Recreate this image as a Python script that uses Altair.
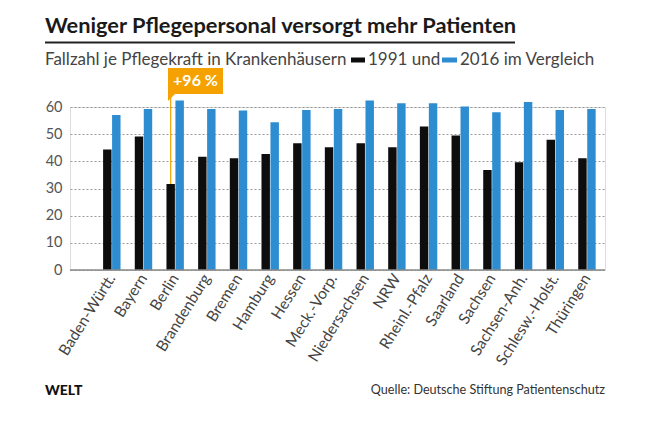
import altair as alt
import pandas as pd

states = ["Baden-Württ.", "Bayern", "Berlin", "Brandenburg", "Bremen", "Hamburg",
          "Hessen", "Meck.-Vorp.", "Niedersachsen", "NRW", "Rheinl.-Pfalz",
          "Saarland", "Sachsen", "Sachsen-Anh.", "Schlesw.-Holst.", "Thüringen"]
v1991 = [44.4, 49.1, 31.7, 41.7, 41.1, 42.7, 46.7, 45.2, 46.7, 45.2, 52.8,
         49.5, 36.8, 39.7, 47.9, 41.1]
v2016 = [57.1, 59.3, 62.4, 59.3, 58.7, 54.4, 58.9, 59.3, 62.4, 61.4, 61.4,
         60.2, 58.1, 61.8, 58.9, 59.3]
years = ["1991", "2016"]
yticks = [0, 10, 20, 30, 40, 50, 60]

title = "Weniger Pflegepersonal versorgt mehr Patienten"
sub1 = "Fallzahl je Pflegekraft in Krankenhäusern"
sub2 = "1991 und"
sub3 = "2016 im Vergleich"
badge = "+96 %"
source = "Quelle: Deutsche Stiftung Patientenschutz"
logo = "WELT"

rows = []
for s, a, b in zip(states, v1991, v2016):
    rows.append({"state": s, "year": years[0], "value": a})
    rows.append({"state": s, "year": years[1], "value": b})
df = pd.DataFrame(rows)

FONT = "Lato"
BLACK = "#0d0d0d"
BLUE = "#2e8dd0"
ORANGE = "#f5a200"

xscale = alt.Scale(domain=states, paddingInner=0.45, paddingOuter=0.67, align=0.78)
xaxis = alt.Axis(title=None, labelAngle=-58, labelAlign="right", labelBaseline="middle",
                 labelFontSize=15.5, labelColor="#444", labelPadding=5,
                 ticks=False, domain=False, labelFont=FONT)
yscale = alt.Scale(domain=[0, 60], nice=False, zero=True)
yaxis = alt.Axis(title=None, values=yticks, labelFontSize=14.5, labelColor="#555",
                 labelPadding=8, ticks=False, domain=False, grid=True, labelOverlap=False,
                 gridDash=[2, 2], gridColor="#9a9a9a", gridWidth=1, labelFont=FONT)
xoff = alt.XOffset("year:N", scale=alt.Scale(domain=years, paddingInner=0.06))

base = alt.Chart(df)

bars = base.mark_bar().encode(
    x=alt.X("state:N", sort=states, scale=xscale, axis=xaxis),
    xOffset=xoff,
    y=alt.Y("value:Q", scale=yscale, axis=yaxis),
    color=alt.Color("year:N", scale=alt.Scale(domain=years, range=[BLACK, BLUE]), legend=None),
)

zero = alt.Chart(pd.DataFrame({"value": [0]})).mark_rule(color="#8a8a8a", strokeWidth=1.5).encode(
    y=alt.Y("value:Q", scale=yscale, axis=yaxis),
    x=alt.value(0), x2=alt.value(535))

pointer = base.transform_filter(
    (alt.datum.state == "Berlin") & (alt.datum.year == "1991")
).mark_rule(color=ORANGE, strokeWidth=1.2).encode(
    x=alt.X("state:N", sort=states, scale=xscale, axis=xaxis),
    xOffset=xoff,
    y=alt.Y("value:Q", scale=yscale, axis=yaxis),
    y2=alt.value(-13),
)

ann = pd.DataFrame({"a": [0]})
A = alt.Chart(ann)

def txt(t, x, y, size, color, weight="normal", align="left", baseline="alphabetic"):
    return A.mark_text(text=t, fontSize=size, color=color, fontWeight=weight,
                       align=align, baseline=baseline, font=FONT).encode(
        x=alt.value(x), y=alt.value(y))

layers = [
    bars, zero, pointer,
    txt(title, -25, -74, 21.8, "#1a1a1a", "bold"),
    A.mark_rule(color="#222", strokeWidth=1.8).encode(
        x=alt.value(-25), x2=alt.value(445), y=alt.value(-64.5)),
    txt(sub1, -25, -42.5, 17, "#444"),
    A.mark_rect(color=BLACK).encode(x=alt.value(281), x2=alt.value(295),
                                    y=alt.value(-49.5), y2=alt.value(-44.5)),
    txt(sub2, 298, -42.5, 17, "#444"),
    A.mark_rect(color=BLUE).encode(x=alt.value(372), x2=alt.value(387),
                                   y=alt.value(-49.5), y2=alt.value(-44.5)),
    txt(sub3, 390, -42.5, 17, "#444"),
    A.mark_rect(color=ORANGE).encode(x=alt.value(98), x2=alt.value(153),
                                     y=alt.value(-39), y2=alt.value(-13)),
    A.mark_point(shape="M-1,-1 L1,-1 L-1,1 Z", filled=True, opacity=1, color=ORANGE,
                 size=64, strokeWidth=0).encode(x=alt.value(102), y=alt.value(-10)),
    txt(badge, 125.5, -26, 16, "white", "bold", "center", "middle"),
    A.mark_text(text=logo, fontSize=14, color="#111", fontWeight=900, align="left",
                baseline="alphabetic", font=FONT).encode(x=alt.value(-25), y=alt.value(288)),
    txt(source, 535, 287, 12.6, "#333", align="right"),
]

chart = alt.layer(*layers).properties(
    width=535, height=163,
    padding={"left": 62, "top": 99, "right": 51, "bottom": 150},
    autosize="none",
).configure_view(stroke=None).configure(background="white")

chart.save("out.html", embed_options={"renderer": "svg", "actions": False})
